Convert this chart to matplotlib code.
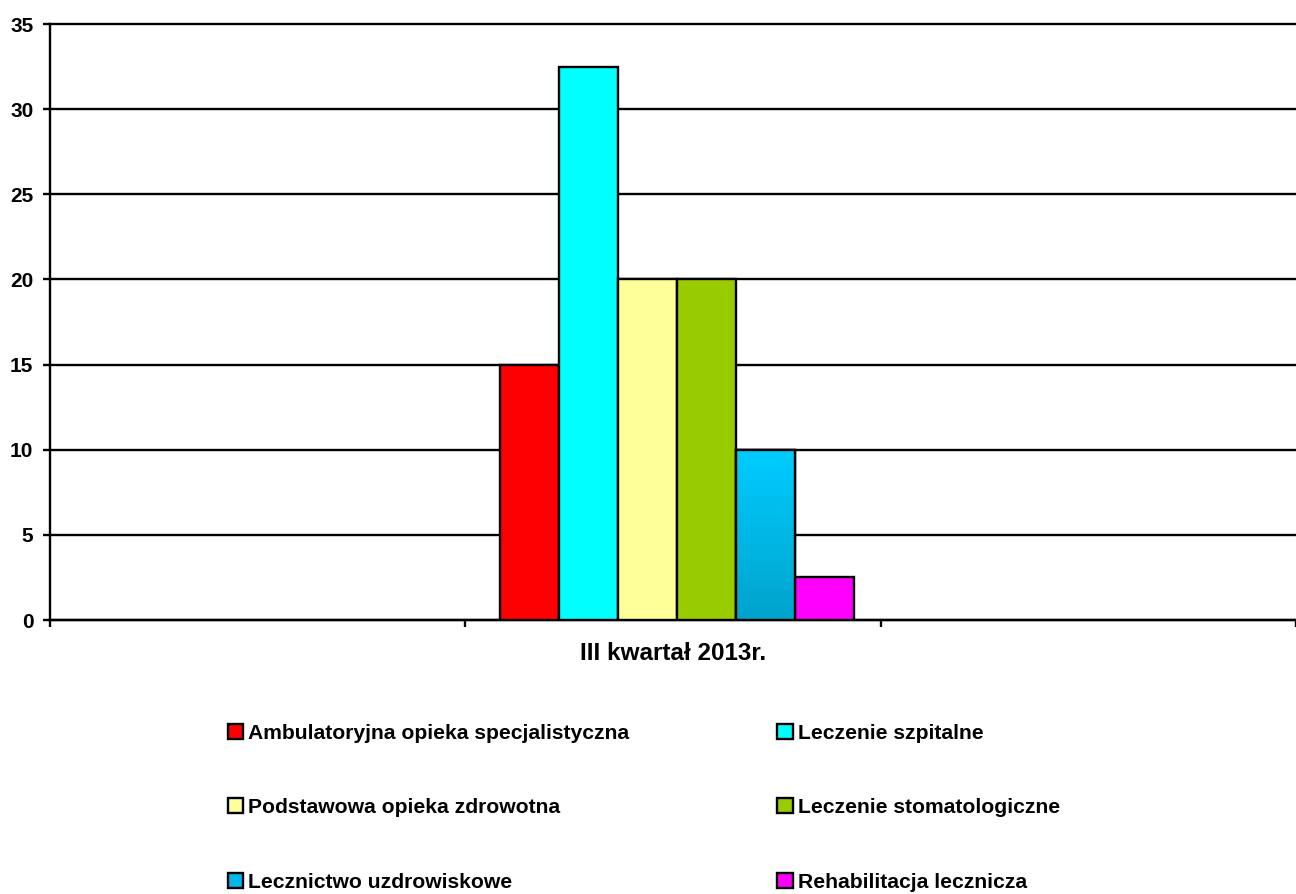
import matplotlib
matplotlib.use("Agg")
import matplotlib.pyplot as plt
import numpy as np
from matplotlib.colors import LinearSegmentedColormap

plt.rcParams['font.family'] = ['Liberation Sans', 'DejaVu Sans']
plt.rcParams['font.weight'] = 'bold'

# dane
kategoria = "III kwartał 2013r."
nazwy = ["Ambulatoryjna opieka specjalistyczna", "Leczenie szpitalne",
         "Podstawowa opieka zdrowotna", "Leczenie stomatologiczne",
         "Lecznictwo uzdrowiskowe", "Rehabilitacja lecznicza"]
wartosci = [15, 32.5, 20, 20, 10, 2.5]
kolory = ["#FF0000", "#00FFFF", "#FFFF99", "#99CC00", "#00C8F8", "#FF00FF"]
y_ticks = [0, 5, 10, 15, 20, 25, 30, 35]

fig = plt.figure(figsize=(12.96, 8.94), dpi=100)
ax = fig.add_axes([50 / 1296, 1 - 620 / 894, 1246 / 1296, 596 / 894])

szer = 0.142
srodek = 1.51
xs = srodek + (np.arange(len(wartosci)) - (len(wartosci) - 1) / 2) * szer
lw = 1.7

ax.set_axisbelow(True)
bary = ax.bar(xs, wartosci, width=szer, color=kolory, edgecolor="black",
              linewidth=lw, zorder=3)

# gradient na slupku "Lecznictwo uzdrowiskowe"
cmap = LinearSegmentedColormap.from_list("uzdr", ["#00A3CC", "#00CCFF"])
b = bary[4]
x0, w, h = b.get_x(), b.get_width(), b.get_height()
gr = np.linspace(0, 1, 256).reshape(-1, 1)
im = ax.imshow(gr, cmap=cmap, origin="lower", aspect="auto",
               extent=(x0, x0 + w, 0, h), zorder=3.5)
im.set_clip_path(b)
ax.bar(x0 + w / 2, h, width=w, facecolor="none", edgecolor="black",
       linewidth=lw, zorder=4)

ax.set_xlim(0, 3)
ax.set_ylim(0, 35)
ax.set_yticks(y_ticks)
ax.set_yticklabels([str(t) for t in y_ticks], fontsize=15, fontweight="bold")
ax.yaxis.grid(True, color="black", linewidth=lw)
for g in ax.get_ygridlines():
    g.set_clip_on(False)
ax.tick_params(axis="y", direction="out", length=5, width=lw, pad=7)

ax.set_xticks([0, 1, 2, 3])
ax.set_xticklabels([])
ax.set_xticks([1.5], minor=True)
ax.set_xticklabels([kategoria], minor=True, fontsize=17.5, fontweight="bold")
ax.tick_params(axis="x", which="major", direction="out", length=5, width=lw)
ax.tick_params(axis="x", which="minor", length=0, pad=16)

for s in ["top", "right"]:
    ax.spines[s].set_visible(False)
for s in ["left", "bottom"]:
    ax.spines[s].set_linewidth(lw)

# legenda: wiersze jak w oryginale (2 kolumny)
kolejnosc = [0, 2, 4, 1, 3, 5]
uchwyty = [plt.Rectangle((0, 0), 1, 1, facecolor=kolory[i], edgecolor="black",
                         linewidth=1.7) for i in kolejnosc]
uchwyty[2].set_facecolor("#00B8E8")
leg = fig.legend(uchwyty, [nazwy[i] for i in kolejnosc], ncol=2,
                 loc="upper left", bbox_to_anchor=(228 / 1296, 1 - 724 / 894),
                 frameon=False, prop={"size": 15.2, "weight": "bold"},
                 handlelength=0.72, handleheight=0.72, handletextpad=0.25,
                 labelspacing=2.62, columnspacing=7.0, borderpad=0,
                 borderaxespad=0)

fig.savefig("out.png", dpi=100)
